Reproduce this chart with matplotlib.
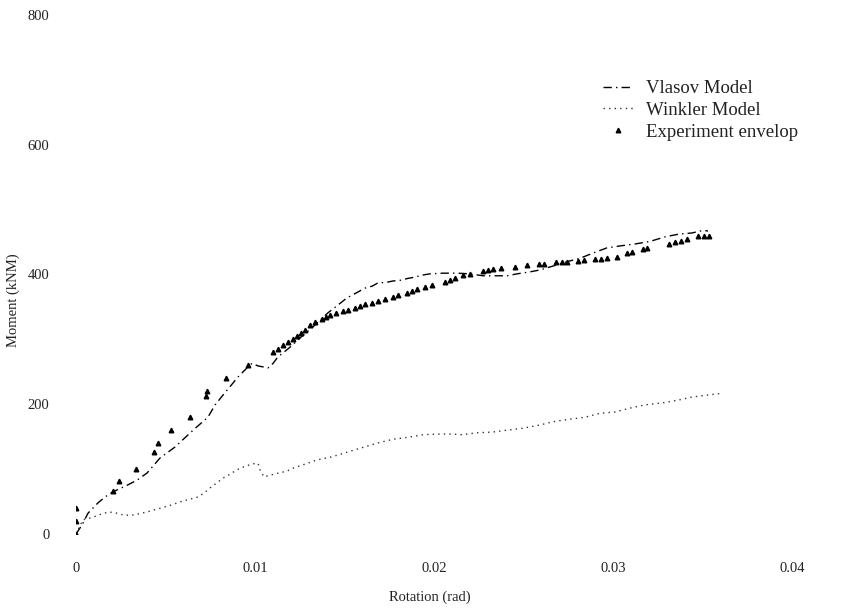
import matplotlib
matplotlib.use("Agg")
import matplotlib.pyplot as plt

# Vlasov model curve (rotation in rad, moment in kNm)
vlasov_rot = [0.0, 0.00034, 0.00067, 0.00123, 0.00162, 0.00207, 0.00285, 0.00341, 0.00397,
              0.00469, 0.00553, 0.00654, 0.00737, 0.00777, 0.00821, 0.00860, 0.00905, 0.00955,
              0.00983, 0.01017, 0.01056, 0.01073, 0.01101, 0.01128, 0.01156, 0.01196, 0.01251,
              0.01335, 0.01408, 0.01464, 0.01514, 0.01542, 0.01575, 0.01615, 0.01654, 0.01687,
              0.01737, 0.01771, 0.01810, 0.01855, 0.01894, 0.01933, 0.01978, 0.02050, 0.02128,
              0.02201, 0.02274, 0.02352, 0.02408, 0.02464, 0.02536, 0.02592, 0.02665, 0.02760,
              0.02816, 0.02888, 0.02966, 0.03039, 0.03123, 0.03207, 0.03291, 0.03363, 0.03441,
              0.03503, 0.03531]
vlasov_mom = [0, 14, 32, 48, 57, 65, 75, 83, 94,
              117, 134, 160, 180, 199, 214, 227, 242, 256,
              263, 259, 257, 256, 263, 273, 279, 288, 302,
              322, 341, 353, 364, 368, 373, 379, 382, 387,
              388, 390, 391, 394, 396, 399, 401, 402, 402,
              401, 398, 398, 398, 401, 404, 407, 413, 421,
              425, 433, 441, 444, 447, 451, 458, 462, 464,
              468, 467]

# Winkler model curve
winkler_rot = [0.0, 0.00039, 0.00061, 0.00095, 0.00145, 0.00184, 0.00229, 0.00268, 0.00313,
               0.00352, 0.00397, 0.00436, 0.00475, 0.00536, 0.00598, 0.00642, 0.00682, 0.00715,
               0.00749, 0.00788, 0.00821, 0.00860, 0.00899, 0.00933, 0.00983, 0.01017, 0.01028,
               0.01050, 0.01089, 0.01134, 0.01179, 0.01218, 0.01251, 0.01346, 0.01430, 0.01514,
               0.01598, 0.01682, 0.01771, 0.01855, 0.01939, 0.02022, 0.02106, 0.02156, 0.02240,
               0.02324, 0.02408, 0.02497, 0.02592, 0.02665, 0.02760, 0.02844, 0.02927, 0.03011,
               0.03095, 0.03179, 0.03274, 0.03358, 0.03441, 0.03525, 0.03615]
winkler_mom = [0, 22, 23, 26, 31, 34, 32, 29, 29,
               31, 34, 37, 40, 45, 51, 54, 57, 63,
               71, 79, 86, 92, 99, 103, 108, 109, 99,
               88, 91, 94, 97, 102, 105, 114, 119, 126,
               133, 140, 146, 149, 153, 154, 154, 153, 156,
               157, 160, 163, 168, 173, 177, 180, 186, 188,
               194, 199, 202, 206, 211, 214, 217]

# experiment envelope points
exp_rot = [0.0, 0.0, 0.0, 0.00207, 0.0024, 0.00335, 0.00436, 0.00458, 0.0053,
           0.00637, 0.00726, 0.00732, 0.00838, 0.0096, 0.01101, 0.01128, 0.01156, 0.01184,
           0.01212, 0.01235, 0.01257, 0.01279, 0.01307, 0.01335, 0.01374, 0.01397, 0.01419,
           0.01453, 0.01492, 0.01520, 0.01559, 0.01587, 0.01615, 0.01654, 0.01687, 0.01726,
           0.01771, 0.01799, 0.01849, 0.01877, 0.01905, 0.01950, 0.01989, 0.02061, 0.02089,
           0.02117, 0.02162, 0.02201, 0.02274, 0.02302, 0.02330, 0.02374, 0.02453, 0.02520,
           0.02587, 0.02615, 0.02682, 0.02715, 0.02743, 0.02804, 0.02838, 0.02899, 0.02933,
           0.02966, 0.03022, 0.03078, 0.03106, 0.03168, 0.03190, 0.03313, 0.03346, 0.03380,
           0.03413, 0.03475, 0.03508, 0.03536]
exp_mom = [0, 20, 40, 66, 82, 100, 126, 140, 160,
           180, 213, 220, 240, 260, 280, 285, 291, 296,
           300, 305, 310, 314, 322, 327, 331, 334, 337,
           341, 344, 345, 348, 351, 354, 356, 359, 362,
           365, 368, 371, 374, 378, 381, 384, 388, 391,
           394, 399, 401, 405, 407, 408, 410, 411, 414,
           416, 416, 419, 419, 419, 421, 422, 424, 424,
           425, 427, 433, 435, 439, 441, 447, 450, 451,
           455, 459, 459, 459]

x_ticks = [0, 0.01, 0.02, 0.03, 0.04]
x_labels = ["0", "0.01", "0.02", "0.03", "0.04"]
y_ticks = [0, 200, 400, 600, 800]

plt.rcParams['font.family'] = ['Liberation Serif', 'DejaVu Serif']
txt = '#222222'

fig = plt.figure(figsize=(8.53, 6.12), dpi=100)
ax = fig.add_axes([0.0891, 0.1275, 0.8394, 0.848])

ax.plot(vlasov_rot, vlasov_mom, color='black', lw=1.0,
        linestyle=(0, (6, 3, 1, 3)), label='Vlasov Model')
ax.plot(winkler_rot, winkler_mom, color='#333333', lw=1.0,
        linestyle=(0, (1, 3)), label='Winkler Model')
ax.plot(exp_rot, exp_mom, '^', color='black', markersize=3.3,
        linestyle='none', label='Experiment envelop')

ax.set_xlim(0, 0.04)
ax.set_ylim(0, 800)
ax.set_xticks(x_ticks)
ax.set_xticklabels(x_labels)
ax.set_yticks(y_ticks)

for s in ax.spines.values():
    s.set_visible(False)
ax.tick_params(axis='both', length=0, labelsize=10.5, colors=txt)
ax.tick_params(axis='y', pad=19)
ax.tick_params(axis='x', pad=20)

ax.set_xlabel('Rotation (rad)', fontsize=10.5, color=txt)
ax.xaxis.set_label_coords(0.494, -0.108)
ax.set_ylabel('Moment (kNM)', fontsize=10.5, color=txt)
ax.yaxis.set_label_coords(-0.078, 0.45)

ax.legend(loc='upper left', bbox_to_anchor=(0.707, 0.869), bbox_transform=fig.transFigure,
          frameon=False, fontsize=13.5, handlelength=1.6, handletextpad=0.7,
          labelspacing=0.24, borderpad=0, borderaxespad=0, labelcolor=txt)

fig.savefig('out.png', dpi=100)
